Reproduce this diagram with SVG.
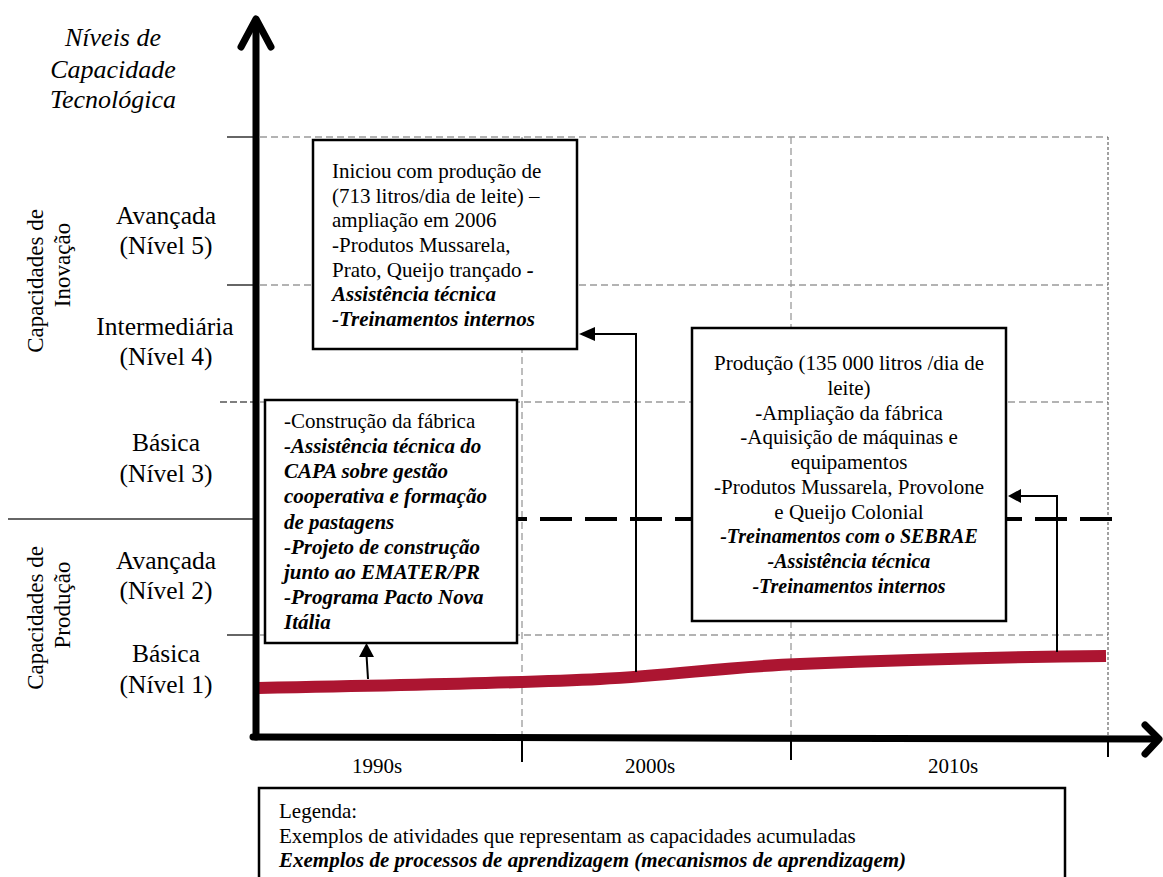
<svg xmlns="http://www.w3.org/2000/svg" width="1163" height="877" viewBox="0 0 1163 877">
<style>
.t{font-family:"Liberation Serif","Times New Roman",serif;font-size:21px;fill:#000}
.lab{font-family:"Liberation Serif","Times New Roman",serif;font-size:25.5px;fill:#000;text-anchor:middle}
.ttl{font-family:"Liberation Serif","Times New Roman",serif;font-size:26px;font-style:italic;fill:#000;text-anchor:middle}
.rot{font-family:"Liberation Serif","Times New Roman",serif;font-size:23px;fill:#000;text-anchor:middle}
.bi{font-weight:bold;font-style:italic}
.sm{font-size:20px}
.grid{stroke:#9a9a9a;stroke-width:1.3;stroke-dasharray:7 4;fill:none}
.tick{stroke:#333;stroke-width:1.5;fill:none}
.box{fill:#fff;stroke:#000;stroke-width:2.5}
.conn{stroke:#000;stroke-width:2;fill:none}
.head{fill:#000;stroke:none}
.axis{stroke:#000;stroke-width:7;fill:none;stroke-linecap:round;stroke-linejoin:round}
</style>

<g id="grid">
  <line class="grid" x1="260" y1="137" x2="1108" y2="137"/>
  <line class="grid" x1="260" y1="285" x2="1108" y2="285"/>
  <line class="grid" x1="260" y1="402" x2="1108" y2="402"/>
  <line class="grid" x1="260" y1="635" x2="1108" y2="635"/>
  <line class="grid" x1="522" y1="137" x2="522" y2="735"/>
  <line class="grid" x1="791" y1="137" x2="791" y2="735"/>
  <line x1="1108" y1="137" x2="1108" y2="740" stroke="#444" stroke-width="1" stroke-dasharray="3 2"/>
  <line class="tick" x1="227" y1="137" x2="256" y2="137"/>
  <line class="tick" x1="227" y1="285" x2="256" y2="285"/>
  <line x1="220" y1="402" x2="256" y2="402" stroke="#555" stroke-width="1.3" stroke-dasharray="7 3"/>
  <line class="tick" x1="8" y1="519" x2="256" y2="519" stroke="#000"/>
  <line class="tick" x1="227" y1="635" x2="256" y2="635"/>
  <line x1="495" y1="519" x2="1112" y2="519" stroke="#000" stroke-width="4" stroke-dasharray="32 13"/>
  <line x1="522" y1="741" x2="522" y2="762" stroke="#000" stroke-width="2"/>
  <line x1="791" y1="741" x2="791" y2="760" stroke="#000" stroke-width="2"/>
  <line x1="1108" y1="741" x2="1108" y2="757" stroke="#000" stroke-width="2"/>
</g>

<g id="curve">
  <path d="M258,688 C420,685 520,683 600,679 C680,675 720,667 800,664 C900,660 1000,657 1106,656" stroke="#ac1531" stroke-width="12" fill="none"/>
</g>

<g id="connectors">
  <line class="conn" x1="368" y1="679" x2="366.5" y2="655"/>
  <polygon class="head" points="366.5,643 359,657 374,657"/>
  <polyline class="conn" points="636,672 636,334 594,334"/>
  <polygon class="head" points="579,334 595,327 595,341"/>
  <polyline class="conn" points="1057,652 1057,496 1020,496"/>
  <polygon class="head" points="1008,496 1021,489 1021,503"/>
</g>

<g id="box1">
  <rect class="box" x="313" y="140" width="264" height="209"/>
  <text class="t" x="332" y="178">Iniciou com produção de</text>
  <text class="t" x="332" y="203">(713 litros/dia de leite) –</text>
  <text class="t" x="332" y="227">ampliação em 2006</text>
  <text class="t" x="332" y="252">-Produtos Mussarela,</text>
  <text class="t" x="332" y="277">Prato, Queijo trançado <tspan class="bi">-</tspan></text>
  <text class="t bi" x="332" y="301">Assistência técnica</text>
  <text class="t bi" x="332" y="326">-Treinamentos internos</text>
</g>

<g id="box2">
  <rect class="box" x="265" y="400" width="252" height="243"/>
  <text class="t" x="284" y="428">-Construção da fábrica</text>
  <text class="t bi" x="284" y="453">-Assistência técnica do</text>
  <text class="t bi" x="284" y="478">CAPA sobre gestão</text>
  <text class="t bi" x="284" y="503">cooperativa e formação</text>
  <text class="t bi" x="284" y="529">de pastagens</text>
  <text class="t bi" x="284" y="554">-Projeto de construção</text>
  <text class="t bi" x="284" y="579">junto ao EMATER/PR</text>
  <text class="t bi" x="284" y="604">-Programa Pacto Nova</text>
  <text class="t bi" x="284" y="629">Itália</text>
</g>

<g id="box3">
  <rect class="box" x="692" y="328" width="314" height="293"/>
  <g text-anchor="middle">
  <text class="t" x="849" y="370">Produção (135 000 litros /dia de</text>
  <text class="t" x="849" y="395">leite)</text>
  <text class="t" x="849" y="420">-Ampliação da fábrica</text>
  <text class="t" x="849" y="444">-Aquisição de máquinas e</text>
  <text class="t" x="849" y="469">equipamentos</text>
  <text class="t" x="849" y="494">-Produtos Mussarela, Provolone</text>
  <text class="t" x="849" y="519">e Queijo Colonial</text>
  <text class="t bi sm" x="849" y="543">-Treinamentos com o SEBRAE</text>
  <text class="t bi sm" x="849" y="568">-Assistência técnica</text>
  <text class="t bi sm" x="849" y="593">-Treinamentos internos</text>
  </g>
</g>

<g id="axes">
  <line class="axis" x1="256" y1="22" x2="256" y2="737" stroke-linecap="butt"/>
  <polyline class="axis" points="241,47 256,19 271,47"/>
  <line class="axis" x1="253" y1="737" x2="1157" y2="739" stroke-linecap="butt"/>
  <polyline class="axis" points="1145,725 1159,739 1145,754"/>
</g>

<g id="ylabels">
  <text class="ttl" x="113" y="46">Níveis de</text>
  <text class="ttl" x="113" y="78">Capacidade</text>
  <text class="ttl" x="113" y="108">Tecnológica</text>
  <text class="lab" x="166" y="224">Avançada</text>
  <text class="lab" x="166" y="254">(Nível 5)</text>
  <text class="lab" x="165" y="335">Intermediária</text>
  <text class="lab" x="166" y="365">(Nível 4)</text>
  <text class="lab" x="166" y="451">Básica</text>
  <text class="lab" x="166" y="482">(Nível 3)</text>
  <text class="lab" x="166" y="569">Avançada</text>
  <text class="lab" x="166" y="599">(Nível 2)</text>
  <text class="lab" x="166" y="662">Básica</text>
  <text class="lab" x="166" y="693">(Nível 1)</text>
  <text class="rot" transform="translate(43,281) rotate(-90)">Capacidades de</text>
  <text class="rot" transform="translate(70,265) rotate(-90)">Inovação</text>
  <text class="rot" transform="translate(43,618) rotate(-90)">Capacidades de</text>
  <text class="rot" transform="translate(70,605) rotate(-90)">Produção</text>
</g>

<g id="xlabels">
  <text class="t" text-anchor="middle" x="377" y="773">1990s</text>
  <text class="t" text-anchor="middle" x="650" y="773">2000s</text>
  <text class="t" text-anchor="middle" x="953" y="773">2010s</text>
</g>

<g id="legend">
  <rect class="box" x="259" y="788" width="806" height="110"/>
  <text class="t" x="279" y="818">Legenda:</text>
  <text class="t" x="279" y="843">Exemplos de atividades que representam as capacidades acumuladas</text>
  <text class="t bi" x="279" y="867">Exemplos de processos de aprendizagem (mecanismos de aprendizagem)</text>
</g>
</svg>
